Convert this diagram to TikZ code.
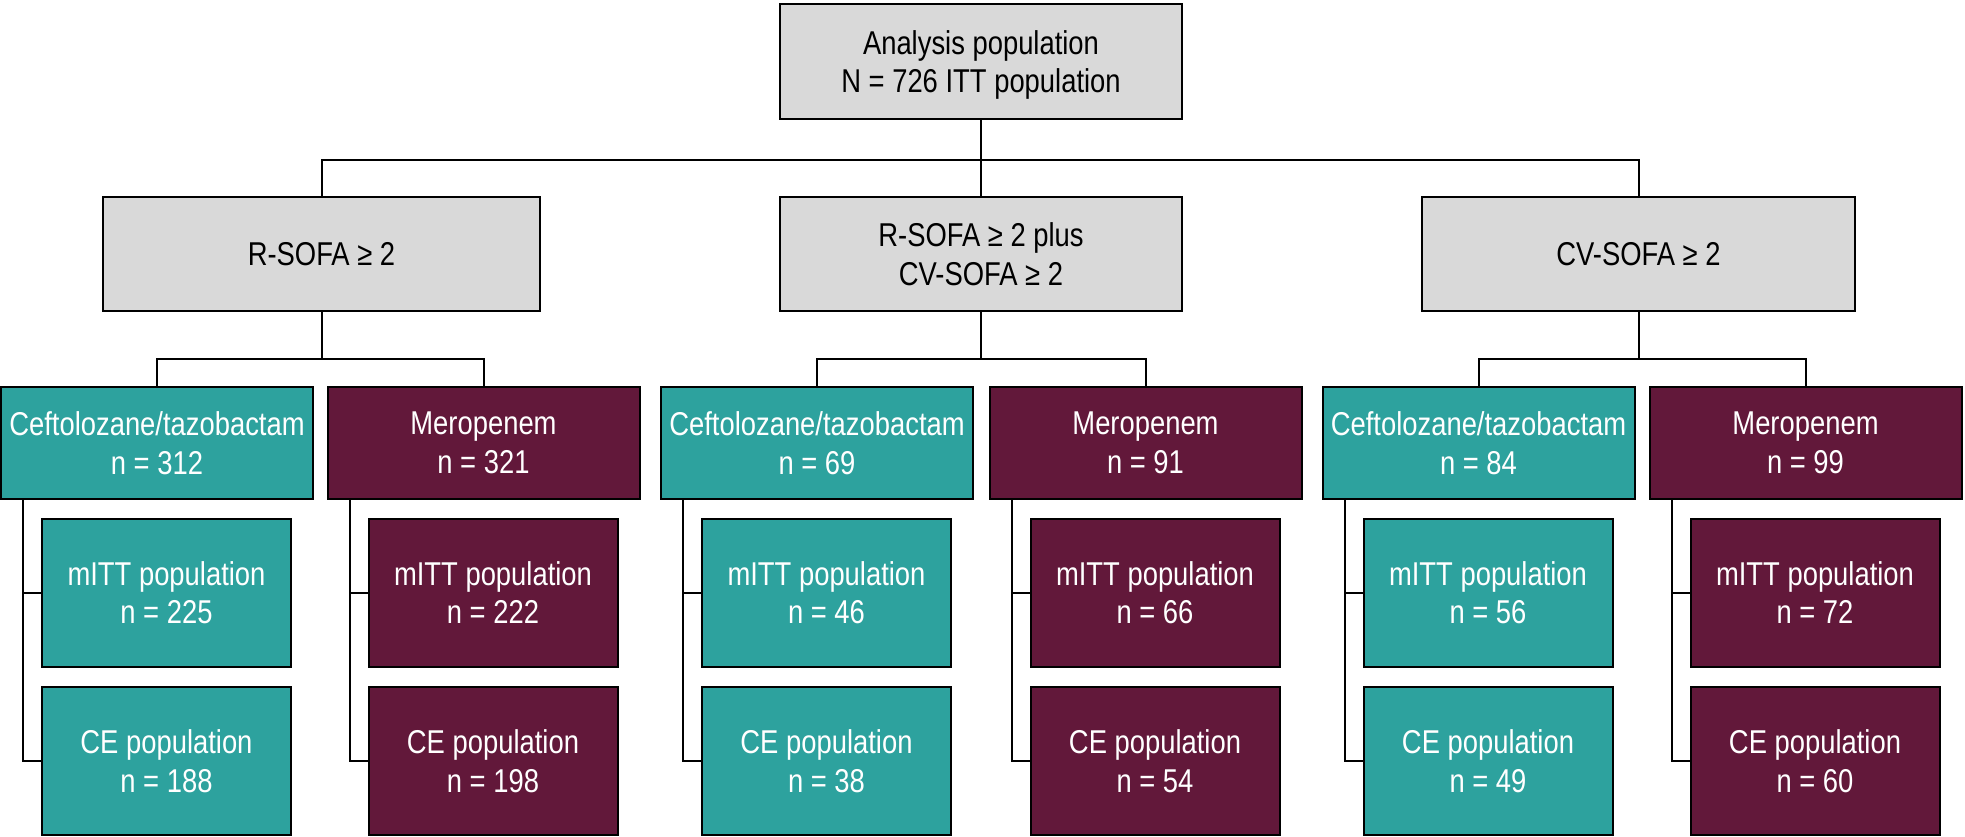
\documentclass[tikz,border=0pt]{standalone}
\usepackage{fontspec}
\setmainfont{Liberation Sans}[FakeStretch=0.83]
\definecolor{boxgrey}{HTML}{D9D9D9}
\definecolor{teal}{HTML}{2DA29E}
\definecolor{maroon}{HTML}{62183A}
\begin{document}
\begin{tikzpicture}[x=1pt,y=-1pt,
  base/.style={draw=black,line width=2pt,align=center,inner sep=0pt,
    font=\fontsize{33}{38.5}\selectfont},
  greybox/.style={base,fill=boxgrey,text=black},
  tbox/.style={base,fill=teal,text=white},
  mbox/.style={base,fill=maroon,text=white},
  toplevel/.style={minimum width=402pt,minimum height=115pt},
  armbox/.style={minimum width=312pt,minimum height=112pt},
  subbox/.style={minimum width=249pt,minimum height=148pt},
  conn/.style={draw=black,line width=2pt}]
\useasboundingbox (0,0) rectangle (1965,837);
% top
\node[greybox,toplevel] (top) at (981,61.5) {Analysis population\\\smash{N = 726 ITT population}};
% level 2
\node[greybox,minimum width=437pt,minimum height=114pt] (A) at (321.5,254) {R-SOFA ≥ 2};
\node[greybox,minimum width=402pt,minimum height=114pt] (B) at (981,254) {R-SOFA ≥ 2 plus\\CV-SOFA ≥ 2};
\node[greybox,minimum width=433pt,minimum height=114pt] (C) at (1638.5,254) {CV-SOFA ≥ 2};
% level 3
\node[tbox,armbox] (T1) at (157,443) {Ceftolozane/tazobactam\\n = 312};
\node[mbox,armbox] (M1) at (483.5,443) {Meropenem\\n = 321};
\node[tbox,armbox] (T2) at (817,443) {Ceftolozane/tazobactam\\n = 69};
\node[mbox,armbox] (M2) at (1145.5,443) {Meropenem\\n = 91};
\node[tbox,armbox] (T3) at (1478.5,443) {Ceftolozane/tazobactam\\n = 84};
\node[mbox,armbox] (M3) at (1805.5,443) {Meropenem\\n = 99};
% sub boxes
\foreach \p/\s/\c/\a/\b in {T1/t1/tbox/225/188, M1/m1/mbox/222/198, T2/t2/tbox/46/38,
    M2/m2/mbox/66/54, T3/t3/tbox/56/49, M3/m3/mbox/72/60}{
  \node[\c,subbox,anchor=west] (\s a) at ([xshift=41pt]\p.south west |- 0,592.5) {mITT population\\n = \a};
  \node[\c,subbox,anchor=west] (\s b) at ([xshift=41pt]\p.south west |- 0,761) {CE population\\n = \b};
  \draw[conn] ([xshift=23pt]\p.south west) |- (\s a.west);
  \draw[conn] ([xshift=23pt]\p.south west) |- (\s b.west);
}
% connectors
\coordinate (bus) at (981,160);
\draw[conn] (top.south) -- (B.north);
\draw[conn] (A.north) |- (bus) -| (C.north);
\foreach \g/\l/\r in {A/T1/M1, B/T2/M2, C/T3/M3}{
  \draw[conn] (\g.south) -- ++(0,47) coordinate (\g bus);
  \draw[conn] (\l.north) |- (\g bus) -| (\r.north);
}
\end{tikzpicture}
\end{document}
